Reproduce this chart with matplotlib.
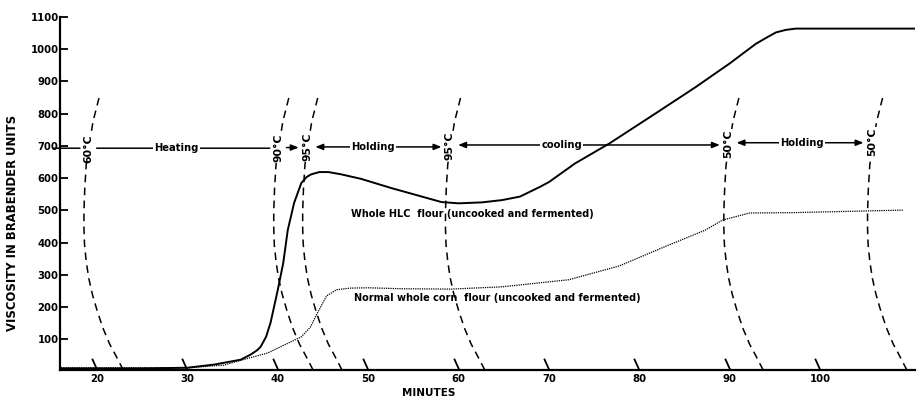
import numpy as np
import matplotlib
matplotlib.use("Agg")
import matplotlib.pyplot as plt
from matplotlib.path import Path

plt.rcParams['font.family'] = ['DejaVu Sans']
plt.rcParams['font.weight'] = 'bold'

# Whole HLC flour (solid)
hlc_t = [16, 25, 30, 33, 35.9, 37.0, 37.7, 38.1, 38.7, 39.2, 40.0, 40.6, 41.1, 41.8,
         42.6, 43.2, 43.7, 44.6, 45.6, 47.0, 49.2, 52.6, 58.1, 60.0, 62.6, 64.8,
         66.8, 69.0, 70.0, 72.9, 76.7, 81.8, 86.2, 90.0, 92.9, 94.2, 95.1, 96.2,
         97.3, 110.7]
hlc_v = [10, 10, 12, 22, 37, 53, 66, 77, 108, 152, 254, 337, 439, 523,
         585, 604, 612, 619, 619, 612, 598, 569, 526, 522, 525, 532,
         543, 573, 588, 646, 708, 801, 882, 956, 1017, 1038, 1052, 1060,
         1064, 1064]

# Normal whole corn flour (dotted)
corn_t = [16, 30, 34, 35.9, 38.9, 42.6, 43.6, 44.4, 45.4, 46.5, 48, 50, 53.7, 59.2,
          64.8, 72.2, 77.8, 82.6, 87.3, 89.2, 92.2, 96.7, 109.2]
corn_v = [12, 12, 20, 35, 58, 108, 138, 183, 235, 254, 259, 260, 257, 256,
          263, 285, 328, 385, 439, 470, 492, 493, 501]

# temperature marks (time where the pen arc meets the base line)
temp_t = [22.9, 43.9, 47.1, 62.9, 93.7, 109.6]
temp_lbl = ['60°C', '90°C', '95°C', '95°C', '50°C', '50°C']
temp_y = [693, 694, 696, 700, 707, 712]

# shape of the chart-paper time arc, relative to its foot
arc_dx = [0, -0.92, -1.50, -2.25, -2.88, -3.42, -3.82, -4.10, -4.29, -4.35, -4.35,
          -4.26, -4.10, -3.35, -2.65]
arc_dy = [0, 50, 80, 130, 183, 235, 285, 337, 390, 439, 492,
          563, 637, 770, 848]

# phases
phase_lbl = ['Heating', '', 'Holding', 'cooling', 'Holding']
phase_x = [28.8, None, 50.5, 71.4, 98.0]
phase_y = [693, 695, 697, 703, 710]
phase_style = ['-', '-|>', '<|-|>', '<|-|>', '<|-|>']

xticks = [20, 30, 40, 50, 60, 70, 80, 90, 100]
yticks = [100, 200, 300, 400, 500, 600, 700, 800, 900, 1000, 1100]

fig = plt.figure(figsize=(9.19, 3.99), dpi=100)
ax = fig.add_axes([60 / 919, 29 / 399, 855 / 919, 353 / 399])
ax.set_xlim(15.9, 110.5)
ax.set_ylim(5, 1100)

for s in ['top', 'right']:
    ax.spines[s].set_visible(False)
ax.spines['left'].set_linewidth(1.6)
ax.spines['bottom'].set_linewidth(1.6)

ax.set_yticks(yticks)
ax.set_yticklabels([str(v) for v in yticks])
ax.tick_params(axis='y', direction='in', length=6, width=1.3, pad=1, labelsize=7.3)
ax.set_xticks(xticks)
ax.set_xticklabels([str(v) for v in xticks])
ax.tick_params(axis='x', length=0, pad=3, labelsize=7.3)

# slanted tick marks on the time axis
slant = Path([(0, 0), (-0.45, 1)], [Path.MOVETO, Path.LINETO])
ax.plot(xticks, [5] * len(xticks), ls='none', marker=slant, ms=17, mew=1.3,
        mec='black', clip_on=False, zorder=5)

# curves
ax.plot(hlc_t, hlc_v, color='black', lw=1.4, zorder=4)
ax.plot(corn_t, corn_v, color='black', lw=0.9, ls=(0, (1, 0.8)), zorder=4)

# temperature arcs
for t in temp_t:
    ax.plot(np.array(arc_dx) + t, np.array(arc_dy) + 5, color='black', lw=1.1,
            ls=(0, (5, 3.5)), zorder=3)

lbl_x = [t - 3.87 for t in temp_t]
for x, y, s in zip(lbl_x, temp_y, temp_lbl):
    ax.text(x, y, s, rotation=90, ha='center', va='center', fontsize=7.8,
            bbox=dict(facecolor='white', edgecolor='none', pad=0.6), zorder=6)

# phase arrows
ax.annotate('', xy=(lbl_x[0], phase_y[0]), xytext=(15.1, phase_y[0]),
            arrowprops=dict(arrowstyle='-', lw=1.1, shrinkA=0, shrinkB=6),
            annotation_clip=False)
for i in range(len(phase_lbl)):
    style = phase_style[i]
    if style != '-':
        style += ',head_length=0.45,head_width=0.18'
    ax.annotate('', xy=(lbl_x[i + 1], phase_y[i]), xytext=(lbl_x[i], phase_y[i]),
                arrowprops=dict(arrowstyle=style, color='black', lw=1.1,
                                shrinkA=6, shrinkB=6))
    if phase_lbl[i]:
        ax.text(phase_x[i], phase_y[i], phase_lbl[i], ha='center', va='center',
                fontsize=7.2, bbox=dict(facecolor='white', edgecolor='none', pad=0.8),
                zorder=6)

ax.text(48.1, 489, 'Whole HLC  flour (uncooked and fermented)', fontsize=7.0,
        ha='left', va='center')
ax.text(48.4, 229, 'Normal whole corn  flour (uncooked and fermented)', fontsize=7.0,
        ha='left', va='center')

fig.text(429 / 919, 1 - 393 / 399, 'MINUTES', ha='center', va='center', fontsize=7.5)
fig.text(13 / 919, 1 - 223 / 399, 'VISCOSITY IN BRABENDER UNITS', rotation=90,
         ha='center', va='center', fontsize=8.4)

fig.savefig('out.png', dpi=100)
